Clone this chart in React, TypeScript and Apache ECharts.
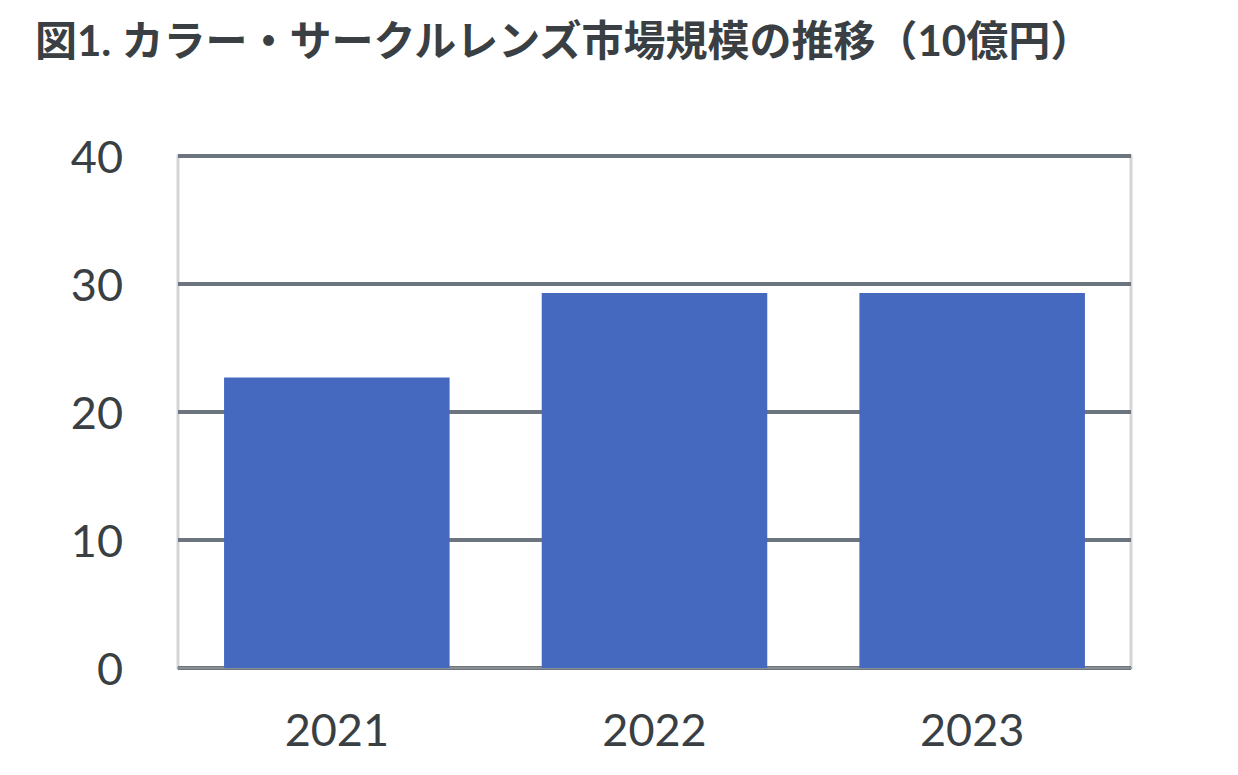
import React, { useEffect, useRef } from 'react';
import * as echarts from 'echarts';

const years = ['2021', '2022', '2023'];
const marketSize = [22.7, 29.3, 29.3];
const yTicks = { min: 0, max: 40, interval: 10 };
const titleText = '図1. カラー・サークルレンズ市場規模の推移（10億円）';

const App = () => {
  const chartRef = useRef<HTMLDivElement>(null);

  useEffect(() => {
    const chart = echarts.init(chartRef.current!, null, { renderer: 'svg' });
    chart.setOption({
      animation: false,
      backgroundColor: '#ffffff',
      title: {
        text: titleText,
        left: 30,
        top: 14,
        textStyle: {
          fontFamily: 'Lato, "Noto Sans CJK JP", sans-serif',
          fontWeight: 'bold',
          fontSize: 42,
          color: '#3a3f44',
        },
      },
      grid: {
        left: 178,
        right: 107,
        top: 156,
        bottom: 107,
        show: true,
        borderColor: '#d3d6d9',
        borderWidth: 3,
      },
      xAxis: {
        type: 'category',
        data: years,
        axisLine: { show: true, lineStyle: { color: '#8a8f94', width: 2 } },
        axisTick: { show: false },
        axisLabel: {
          margin: 38,
          fontSize: 45,
          fontFamily: 'Lato, sans-serif',
          color: '#3a3f44',
        },
      },
      yAxis: {
        type: 'value',
        min: yTicks.min,
        max: yTicks.max,
        interval: yTicks.interval,
        axisLine: { show: false },
        axisTick: { show: false },
        axisLabel: {
          margin: 55,
          fontSize: 45,
          fontFamily: 'Lato, sans-serif',
          color: '#3a3f44',
        },
        splitLine: { lineStyle: { color: '#6c757d', width: 4 } },
      },
      series: [
        {
          type: 'bar',
          data: marketSize,
          barCategoryGap: '29%',
          itemStyle: { color: '#4469bf' },
        },
      ],
    });
    return () => {
      chart.dispose();
    };
  }, []);

  return (
    <div
      ref={chartRef}
      style={{ position: 'absolute', left: 0, top: 0, width: '1238px', height: '775px' }}
    ></div>
  );
};
export default App;
